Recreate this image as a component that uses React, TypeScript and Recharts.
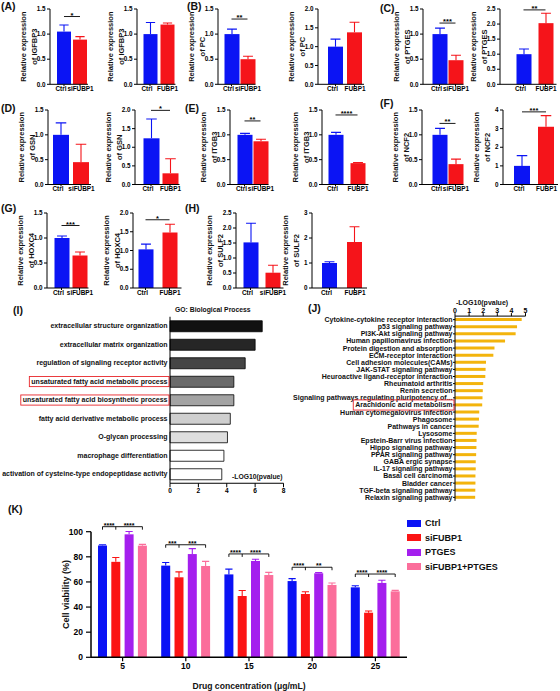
import React from "react";
import { Bar, BarChart, Cell, LabelList, Legend, ReferenceLine, XAxis, YAxis } from "recharts";

const FONT = '"Liberation Sans", Arial, Helvetica, sans-serif';
const BLUE = "#0b14f4";
const RED = "#f5141a";

// ---- qPCR mini panels (A)-(H) ----
const geneNames = ["IGFBP3", "IGFBP3", "PC", "PC", "PTGES", "PTGES", "GSN", "GSN", "ITGB3", "ITGB3", "NCF2", "NCF2", "HOXC4", "HOXC4", "SULF2", "SULF2"];
const treatNames = ["siFUBP1", "FUBP1", "siFUBP1", "FUBP1", "siFUBP1", "FUBP1", "siFUBP1", "FUBP1", "siFUBP1", "FUBP1", "siFUBP1", "FUBP1", "siFUBP1", "FUBP1", "siFUBP1", "FUBP1"];
const ctrlMean = [1.05, 1.0, 1.0, 1.0, 1.0, 1.0, 1.0, 1.24, 1.0, 1.0, 1.0, 1.0, 1.0, 1.03, 1.52, 1.0];
const ctrlErr = [0.13, 0.23, 0.1, 0.2, 0.12, 0.17, 0.24, 0.52, 0.03, 0.05, 0.13, 0.55, 0.04, 0.14, 0.64, 0.05];
const treatMean = [0.89, 1.19, 0.5, 1.38, 0.48, 2.03, 0.45, 0.3, 0.87, 0.43, 0.41, 3.1, 0.65, 1.48, 0.51, 1.84];
const treatErr = [0.06, 0.03, 0.06, 0.27, 0.1, 0.33, 0.36, 0.39, 0.04, 0.01, 0.1, 0.6, 0.07, 0.22, 0.25, 0.61];
const yMax = [1.5, 1.5, 1.5, 2, 1.5, 2.5, 1.5, 2, 1.5, 1.5, 1.5, 4, 1.5, 2, 2.5, 3];
const yStep = [0.5, 0.5, 0.5, 0.5, 0.5, 0.5, 0.5, 0.5, 0.5, 0.5, 0.5, 1, 0.5, 0.5, 0.5, 1];
const sigText = ["*", "", "**", "", "***", "**", "", "*", "**", "****", "**", "***", "***", "*", "", ""];
const sigLevel = [1.35, 0, 1.3, 0, 1.22, 2.47, 0, 1.99, 1.28, 1.4, 1.23, 3.9, 1.25, 1.82, 0, 0];

// layout of the mini panels (pixels)
const miniLayout = [
  { axis: 50, b1: 57, b2: 73, bw: 14, row: 0 },
  { axis: 137, b1: 143, b2: 160, bw: 14, row: 0 },
  { axis: 218, b1: 224, b2: 240, bw: 15, row: 0 },
  { axis: 318, b1: 328, b2: 347, bw: 15, row: 0 },
  { axis: 423, b1: 432, b2: 448, bw: 15, row: 0 },
  { axis: 500, b1: 516, b2: 538, bw: 15, row: 0 },
  { axis: 48, b1: 53, b2: 73, bw: 16, row: 1 },
  { axis: 135, b1: 143, b2: 162, bw: 16, row: 1 },
  { axis: 230, b1: 237, b2: 253, bw: 15, row: 1 },
  { axis: 322, b1: 328, b2: 350, bw: 15, row: 1 },
  { axis: 422, b1: 432, b2: 448, bw: 15, row: 1 },
  { axis: 503, b1: 514, b2: 538, bw: 16, row: 1 },
  { axis: 47, b1: 54, b2: 72, bw: 15, row: 2 },
  { axis: 133, b1: 138, b2: 162, bw: 15, row: 2 },
  { axis: 236, b1: 243, b2: 265, bw: 15, row: 2 },
  { axis: 312, b1: 322, b2: 347, bw: 15, row: 2 },
];
const rowTop = [9, 110, 213];
const rowBottom = [84.3, 184.5, 288];

const panelTags = ["(A)", "(B)", "(C)", "(D)", "(E)", "(F)", "(G)", "(H)", "(I)", "(J)", "(K)"];
const tagPos = [[1, 6], [187, 6], [380, 7.5], [1, 107.5], [185, 107.5], [380, 103], [1, 207.5], [185, 208], [13, 310], [308, 307.5], [8, 509]];

// ---- (I) GO ----
const goTerms = [
  "extracellular structure organization",
  "extracellular matrix organization",
  "regulation of signaling receptor activity",
  "unsaturated fatty acid metabolic process",
  "unsaturated fatty acid biosynthetic process",
  "fatty acid derivative metabolic process",
  "O-glycan processing",
  "macrophage differentiation",
  "activation of cysteine-type endopeptidase activity",
];
const goValues = [6.5, 6.0, 5.3, 4.5, 4.5, 4.25, 4.05, 3.8, 3.65];
const goTicks = [0, 2, 4, 6, 8];
const goHighlighted = ["unsaturated fatty acid metabolic process", "unsaturated fatty acid biosynthetic process"];
const goFills = ["#111111", "#262626", "#454545", "#6b6b6b", "#a3a3a3", "#cfcfcf", "#dedede", "#ffffff", "#ffffff"];

// ---- (J) KEGG ----
const keggTerms = [
  "Cytokine-cytokine receptor interaction",
  "p53 signaling pathway",
  "PI3K-Akt signaling pathway",
  "Human papillomavirus infection",
  "Protein digestion and absorption",
  "ECM-receptor interaction",
  "Cell adhesion molecules(CAMs)",
  "JAK-STAT signaling pathway",
  "Heuroactive ligand-receptor interaction",
  "Rheumatoid arthritis",
  "Renin secretion",
  "Signaling pathways regulating pluripotency of...",
  "Arachidonic acid metabolism",
  "Human cytomegalovirus infection",
  "Phagosome",
  "Pathways in cancer",
  "Lysosome",
  "Epstein-Barr virus infection",
  "Hippo signaling pathway",
  "PPAR signaling pathway",
  "GABA ergic synapse",
  "IL-17 signaling pathway",
  "Basal cell carcinoma",
  "Bladder cancer",
  "TGF-beta signaling pathway",
  "Relaxin signaling pathway",
];
const keggValues = [4.73, 4.4, 4.3, 3.55, 2.8, 2.72, 2.2, 2.17, 2.15, 2.0, 1.97, 1.95, 1.93, 1.72, 1.7, 1.68, 1.54, 1.53, 1.52, 1.5, 1.47, 1.47, 1.45, 1.45, 1.44, 1.43];
const keggTicks = [0, 1, 2, 3, 4, 5];
const keggHighlighted = ["Arachidonic acid metabolism"];

// ---- (K) viability ----
const concentrations = ["5", "10", "15", "20", "25"];
const seriesNames = ["Ctrl", "siFUBP1", "PTGES", "siFUBP1+PTGES"];
const ctrlViability = [89, 73, 66, 60.7, 55.7];
const ctrlViabilityErr = [0.6, 2.5, 4.2, 1.9, 1.3];
const siViability = [76, 63.7, 48.8, 50.4, 35.5];
const siViabilityErr = [3.4, 4.3, 4.4, 1.8, 1.4];
const ptgesViability = [97.9, 82.2, 76.7, 66.9, 59.2];
const ptgesViabilityErr = [2.2, 4.3, 1.4, 0.6, 2.1];
const comboViability = [88.9, 72.7, 65.5, 57.6, 52.5];
const comboViabilityErr = [1.0, 3.7, 2.1, 1.6, 0.8];
const bracketLevel = [104, 89.6, 82.3, 71.7, 66.3];
const starsLeft = ["****", "***", "****", "****", "****"];
const starsRight = ["****", "***", "****", "**", "****"];
const viabilityTicks = [0, 20, 40, 60, 80, 100];
const K_GAP = 4.3;

let ctx: CanvasRenderingContext2D | null = null;
function measure(text: string, size: number) {
  if (!ctx) ctx = document.createElement("canvas").getContext("2d");
  if (!ctx) return text.length * size * 0.55;
  ctx.font = `bold ${size}px ${FONT}`;
  return ctx.measureText(text).width;
}

// bar with an upward-only error whisker in the bar's own colour
function errShape(key: string, errKey: string, capRatio: number) {
  return (props: any) => {
    const { x, y, width, height, payload, fill } = props;
    const v = payload[key];
    const e = payload[errKey];
    if (!v || height <= 0) return <g />;
    const top = y - (e * height) / v;
    const cx = x + width / 2;
    const cap = width * capRatio;
    return (
      <g>
        <rect x={x} y={y} width={width} height={height} fill={fill} />
        <path d={`M${cx},${y} V${top} M${cx - cap},${top} H${cx + cap}`} stroke={fill} strokeWidth={1.1} fill="none" />
      </g>
    );
  };
}

const miniShape = errShape("value", "err", 0.33);

const miniXTick = (p: any) => (
  <text x={p.x + (p.index === 0 ? -3 : 0.5)} y={p.y} dy="0.72em" textAnchor="middle" fontSize={6.4} fontWeight="bold" fontFamily={FONT} fill="#000">
    {p.payload.value}
  </text>
);

function MiniPanel({ i }: { i: number }) {
  const L = miniLayout[i];
  const top = rowTop[L.row];
  const bottom = rowBottom[L.row];
  const gap = L.b2 - L.b1 - L.bw;
  const plotRight = L.b2 + L.bw + gap / 2;
  const left = L.axis - 46;
  const width = plotRight - left + 14;
  const height = bottom - top + 8 + 14;
  const padLeft = L.b1 - gap / 2 - L.axis;
  const data = [
    { name: "Ctrl", value: ctrlMean[i], err: ctrlErr[i] },
    { name: treatNames[i], value: treatMean[i], err: treatErr[i] },
  ];
  const ticks: number[] = [];
  for (let t = 0; t <= yMax[i] + 1e-9; t += yStep[i]) ticks.push(+t.toFixed(2));
  const fmt = (v: number) => (yStep[i] < 1 ? v.toFixed(1) : String(v));
  const tickStyle = { fontSize: 6.3, fontWeight: "bold" as const, fill: "#000", fontFamily: FONT };
  return (
    <div style={{ position: "absolute", left, top: top - 8 }}>
      <BarChart width={width} height={height} data={data} margin={{ top: 8, right: 14, bottom: 0, left: 0 }} barSize={L.bw}>
        <XAxis
          dataKey="name"
          height={14}
          padding={{ left: padLeft, right: 0 }}
          interval={0}
          tick={miniXTick}
          tickSize={2}
          tickMargin={0}
          axisLine={{ stroke: "#000", strokeWidth: 1 }}
          tickLine={{ stroke: "#000" }}
        />
        <YAxis
          width={46}
          domain={[0, yMax[i]]}
          ticks={ticks}
          tickFormatter={fmt}
          tick={tickStyle}
          tickSize={3}
          tickMargin={1.5}
          axisLine={{ stroke: "#000", strokeWidth: 1 }}
          tickLine={{ stroke: "#000" }}
          label={{
            content: (p: any) => {
              const vb = p.viewBox;
              const ax = vb.x + vb.width;
              const cy = vb.y + vb.height / 2;
              return (
                <g>
                  {["Relative expression", "of " + geneNames[i]].map((t, j) => {
                    const cx = ax - (j ? 15.8 : 26.3);
                    return (
                      <text key={j} x={cx} y={cy} transform={`rotate(-90 ${cx} ${cy})`} textAnchor="middle" dominantBaseline="central" fontSize={7.5} fontWeight="bold" fontFamily={FONT} fill="#111">
                        {t}
                      </text>
                    );
                  })}
                </g>
              );
            },
          }}
        />
        <Bar dataKey="value" isAnimationActive={false} shape={miniShape}>
          <Cell fill={BLUE} />
          <Cell fill={RED} />
        </Bar>
        {sigText[i] && (
          <ReferenceLine
            segment={[
              { x: "Ctrl", y: sigLevel[i] },
              { x: treatNames[i], y: sigLevel[i] },
            ]}
            stroke="#000"
            strokeWidth={0.9}
            label={{ value: sigText[i], position: "top", offset: -1, fontSize: 7.5, fontWeight: "bold", fill: "#000", fontFamily: FONT }}
          />
        )}
      </BarChart>
    </div>
  );
}

function makeTermTick(highlighted: string[], size: number) {
  return (props: any) => {
    const { x, y, payload } = props;
    const label = String(payload.value);
    const hl = highlighted.includes(label);
    const w = measure(label, size);
    return (
      <g>
        {hl && <rect x={x - w - 2} y={y - size * 0.72} width={w + 3.5} height={size * 1.45} fill="none" stroke="#e8262b" strokeWidth={0.9} />}
        <text x={x} y={y} dy="0.35em" textAnchor="end" fontSize={size} fontWeight="bold" fontFamily={FONT} fill="#111">
          {label}
        </text>
      </g>
    );
  };
}

const goTick = makeTermTick(goHighlighted, 7);
const keggTick = makeTermTick(keggHighlighted, 7);

function GoPanel() {
  const data = goTerms.map((term, k) => ({ term, value: goValues[k] }));
  const small = { fontSize: 6.6, fontWeight: "bold" as const, fill: "#000", fontFamily: FONT };
  return (
    <>
      <div style={{ position: "absolute", left: 175, top: 305, fontSize: 6.8, fontWeight: "bold", lineHeight: "10px", color: "#111" }}>GO: Biological Process</div>
      <div style={{ position: "absolute", left: 0, top: 300 }}>
        <BarChart width={300} height={200} data={data} layout="vertical" margin={{ top: 16.75, right: 16.5, bottom: 0, left: 0 }} barSize={11}>
          <XAxis
            type="number"
            domain={[0, 8]}
            ticks={goTicks}
            height={16.75}
            tick={small}
            tickSize={4}
            tickMargin={1}
            axisLine={{ stroke: "#000" }}
            tickLine={{ stroke: "#000" }}
            label={{
              content: (p: any) => {
                const vb = p.viewBox;
                return (
                  <text x={vb.x + 62} y={vb.y - 6.5} dominantBaseline="central" fontSize={6.8} fontWeight="bold" fontFamily={FONT} fill="#111">
                    -LOG10(pvalue)
                  </text>
                );
              },
            }}
          />
          <YAxis type="category" dataKey="term" width={170} tick={goTick} tickSize={2} tickMargin={0.5} tickLine={false} axisLine={{ stroke: "#000" }} interval={0} />
          <Bar dataKey="value" isAnimationActive={false} stroke="#000" strokeWidth={0.8}>
            {goFills.map((f, k) => (
              <Cell key={k} fill={f} />
            ))}
          </Bar>
        </BarChart>
      </div>
    </>
  );
}

function KeggPanel() {
  const data = keggTerms.map((term, k) => ({ term, value: keggValues[k] }));
  const small = { fontSize: 7, fontWeight: "bold" as const, fill: "#000", fontFamily: FONT };
  return (
    <div style={{ position: "absolute", left: 280, top: 290 }}>
      <BarChart width={275} height={215} data={data} layout="vertical" margin={{ top: 6, right: 29.5, bottom: 4.1, left: 0 }} barSize={3}>
        <XAxis
          type="number"
          orientation="top"
          domain={[0, 5]}
          ticks={keggTicks}
          height={20.1}
          tick={small}
          tickSize={3}
          tickMargin={0}
          axisLine={{ stroke: "#000" }}
          tickLine={{ stroke: "#000" }}
          label={{
            content: (p: any) => {
              const vb = p.viewBox;
              return (
                <text x={vb.x + 1} y={vb.y + 6} dominantBaseline="central" fontSize={7} fontWeight="bold" fontFamily={FONT} fill="#111">
                  -LOG10(pvalue)
                </text>
              );
            },
          }}
        />
        <YAxis type="category" dataKey="term" width={175} tick={keggTick} tickSize={2} tickMargin={0.5} tickLine={{ stroke: "#000" }} axisLine={{ stroke: "#000" }} interval={0} />
        <Bar dataKey="value" fill="#f3b40c" isAnimationActive={false} />
      </BarChart>
    </div>
  );
}

function BracketLabel(props: any) {
  const { x, y, width, height, value, index } = props;
  if (!value || !height) return null;
  const k = height / value;
  const by = y + height - bracketLevel[index] * k;
  const step = width + K_GAP;
  const c2 = x + width / 2;
  const c1 = c2 - step;
  const c4 = c2 + 2 * step;
  const st = { fontSize: 7, fontWeight: "bold" as const, fontFamily: FONT, fill: "#000", textAnchor: "middle" as const };
  return (
    <g>
      <path d={`M${c1},${by + 3} V${by} H${c4} V${by + 3} M${c2},${by} V${by + 3}`} stroke="#000" strokeWidth={0.9} fill="none" />
      <text x={(c1 + c2) / 2} y={by + 1} {...st}>
        {starsLeft[index]}
      </text>
      <text x={(c2 + c4) / 2} y={by + 1} {...st}>
        {starsRight[index]}
      </text>
    </g>
  );
}

function ViabilityLegend(props: any) {
  const payload = [...(props.payload || [])].sort((a: any, b: any) => seriesNames.indexOf(a.value) - seriesNames.indexOf(b.value));
  return (
    <div style={{ fontFamily: FONT }}>
      {payload.map((p: any) => (
        <div key={p.value} style={{ height: 14.5, display: "flex", alignItems: "center" }}>
          <span style={{ display: "inline-block", width: 14, height: 7, background: p.color, marginRight: 4 }} />
          <span style={{ fontSize: 9, fontWeight: "bold", color: "#111", whiteSpace: "nowrap" }}>{p.value}</span>
        </div>
      ))}
    </div>
  );
}

function ViabilityPanel() {
  const data = concentrations.map((c, k) => ({
    conc: c,
    ctrl: ctrlViability[k],
    ctrlErr: ctrlViabilityErr[k],
    si: siViability[k],
    siErr: siViabilityErr[k],
    ptges: ptgesViability[k],
    ptgesErr: ptgesViabilityErr[k],
    combo: comboViability[k],
    comboErr: comboViabilityErr[k],
  }));
  const tk = { fontSize: 8.5, fontWeight: "bold" as const, fill: "#000", fontFamily: FONT };
  return (
    <div style={{ position: "absolute", left: 20, top: 500 }}>
      <BarChart width={400} height={191} data={data} margin={{ top: 31.7, right: 13, bottom: 3.7, left: 0 }} barSize={9} barGap={K_GAP}>
        <XAxis
          dataKey="conc"
          height={30}
          tick={tk}
          tickSize={4}
          tickMargin={2}
          axisLine={{ stroke: "#000", strokeWidth: 1.5 }}
          tickLine={{ stroke: "#000", strokeWidth: 1.2 }}
          label={{
            content: (p: any) => {
              const vb = p.viewBox;
              return (
                <text x={vb.x + vb.width / 2} y={vb.y + 28.7} textAnchor="middle" dominantBaseline="central" fontSize={8.6} fontWeight="bold" fontFamily={FONT} fill="#111">
                  Drug concentration (μg/mL)
                </text>
              );
            },
          }}
        />
        <YAxis
          width={71}
          domain={[0, 100]}
          ticks={viabilityTicks}
          tick={tk}
          tickSize={5}
          tickMargin={3}
          axisLine={{ stroke: "#000", strokeWidth: 1.5 }}
          tickLine={{ stroke: "#000", strokeWidth: 1.2 }}
          label={{
            content: (p: any) => {
              const vb = p.viewBox;
              const cx = vb.x + vb.width - 25;
              const cy = vb.y + vb.height / 2;
              return (
                <text x={cx} y={cy} transform={`rotate(-90 ${cx} ${cy})`} textAnchor="middle" dominantBaseline="central" fontSize={9} fontWeight="bold" fontFamily={FONT} fill="#111">
                  Cell viability (%)
                </text>
              );
            },
          }}
        />
        <Legend layout="vertical" align="center" verticalAlign="middle" wrapperStyle={{ left: 387, top: 15.75, width: 130 }} content={ViabilityLegend} />
        <Bar dataKey="ctrl" name={seriesNames[0]} fill="#0a12f5" isAnimationActive={false} shape={errShape("ctrl", "ctrlErr", 0.4)} />
        <Bar dataKey="si" name={seriesNames[1]} fill="#fb1414" isAnimationActive={false} shape={errShape("si", "siErr", 0.4)}>
          <LabelList dataKey="si" content={BracketLabel} />
        </Bar>
        <Bar dataKey="ptges" name={seriesNames[2]} fill="#a41fee" isAnimationActive={false} shape={errShape("ptges", "ptgesErr", 0.4)} />
        <Bar dataKey="combo" name={seriesNames[3]} fill="#fb6e9b" isAnimationActive={false} shape={errShape("combo", "comboErr", 0.4)} />
      </BarChart>
    </div>
  );
}

export default function App() {
  return (
    <div style={{ position: "absolute", left: 0, top: 0, width: 560, height: 691, background: "#fff", fontFamily: FONT, overflow: "hidden" }}>
      {panelTags.map((t, k) => (
        <div key={t} style={{ position: "absolute", left: tagPos[k][0], top: tagPos[k][1] - 6, fontSize: 10.5, fontWeight: "bold", lineHeight: "12px", color: "#111" }}>
          {t}
        </div>
      ))}
      {geneNames.map((g, i) => (
        <MiniPanel key={i} i={i} />
      ))}
      <GoPanel />
      <KeggPanel />
      <ViabilityPanel />
    </div>
  );
}
